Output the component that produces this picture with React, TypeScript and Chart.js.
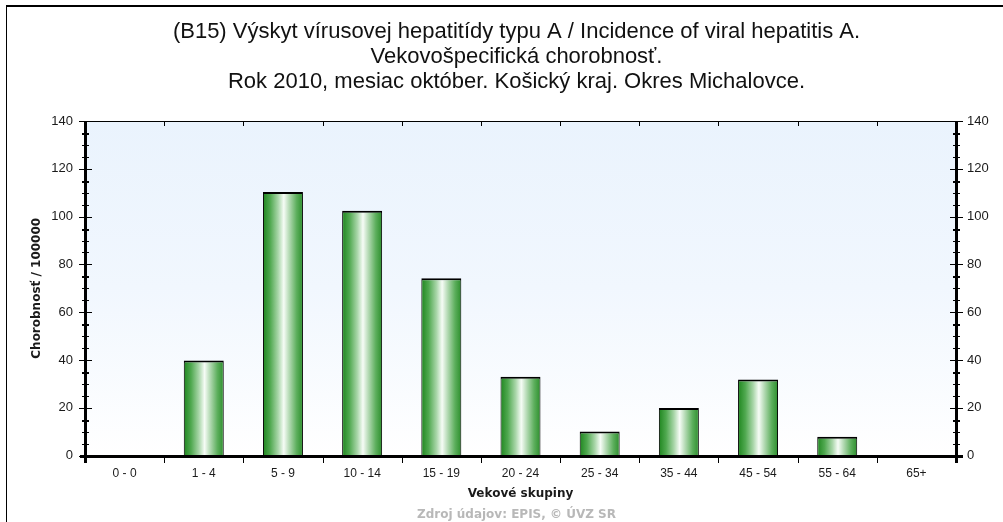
import React, { useEffect, useRef } from 'react';
import { Chart, registerables } from 'chart.js';

Chart.register(...registerables);

const titleLines = [
  '(B15) Výskyt vírusovej hepatitídy typu A / Incidence of viral hepatitis A.',
  'Vekovošpecifická chorobnosť.',
  'Rok 2010, mesiac október. Košický kraj. Okres Michalovce.',
];
const footerText = 'Zdroj údajov: EPIS, © ÚVZ SR';
const xAxisTitle = 'Vekové skupiny';
const yAxisTitle = 'Chorobnosť / 100000';

const categories = ['0 - 0', '1 - 4', '5 - 9', '10 - 14', '15 - 19', '20 - 24', '25 - 34', '35 - 44', '45 - 54', '55 - 64', '65+'];
const incidence = [0, 39.8, 110.3, 102.5, 74.2, 33.0, 10.1, 19.9, 31.8, 7.9, 0];

const yMin = 0;
const yMax = 140;
const yStep = 20;
const yMinorStep = 5;

const BAR_PCT = 0.505;

function barGradient(ctx: any) {
  const chart = ctx.chart;
  const area = chart.chartArea;
  if (!area || !chart.scales || !chart.scales.x) return '#2a8a2a';
  const xs = chart.scales.x;
  const cx = xs.getPixelForValue(ctx.dataIndex);
  const catW = (area.right - area.left) / categories.length;
  const w = catW * BAR_PCT;
  const g = chart.ctx.createLinearGradient(cx - w / 2, 0, cx + w / 2, 0);
  g.addColorStop(0, '#1f861f');
  g.addColorStop(0.18, '#4fa84f');
  g.addColorStop(0.38, '#a9d6a9');
  g.addColorStop(0.52, '#f6fcf6');
  g.addColorStop(0.66, '#b2d9b2');
  g.addColorStop(0.84, '#5daf5d');
  g.addColorStop(1, '#2c8e2c');
  return g;
}

const decorPlugin = {
  id: 'decor',
  beforeDraw(chart: any) {
    const { ctx, chartArea: a } = chart;
    ctx.save();
    ctx.fillStyle = '#ffffff';
    ctx.fillRect(0, 0, chart.width, chart.height);
    const g = ctx.createLinearGradient(0, a.top, 0, a.bottom);
    g.addColorStop(0, '#eaf3fd');
    g.addColorStop(0.5, '#f1f7fe');
    g.addColorStop(1, '#ffffff');
    ctx.fillStyle = g;
    ctx.fillRect(a.left, a.top, a.right - a.left, a.bottom - a.top);
    ctx.fillStyle = '#000';
    ctx.fillRect(6, 5, chart.width - 6, 2);
    ctx.fillRect(6, 5, 1, chart.height - 5);
    ctx.restore();
  },
  afterDatasetsDraw(chart: any) {
    const { ctx, chartArea: a, scales } = chart;
    const xs = scales.x;
    const ys = scales.y;
    const L = Math.round(a.left);
    const R = Math.round(a.right);
    const T = Math.round(a.top);
    const B = Math.round(a.bottom);
    ctx.save();
    ctx.fillStyle = '#000';
    ctx.fillRect(L, T, R - L, 1);
    for (let i = 1; i < categories.length; i++) {
      const px = Math.round((xs.getPixelForValue(i - 1) + xs.getPixelForValue(i)) / 2);
      ctx.fillRect(px, B, 1, 7);
      ctx.fillRect(px, T, 1, 5);
    }
    for (let v = yMin; v <= yMax; v += yMinorStep) {
      const py = Math.round(ys.getPixelForValue(v));
      const major = v % yStep === 0;
      const len = major ? 6 : 3;
      const h = !major && v % yStep === 15 ? 2 : 1;
      [L, R].forEach((ax) => ctx.fillRect(ax - len, py, len * 2 + 1, h));
    }
    ctx.fillRect(L - 1, T, 3, B - T + 7);
    ctx.fillRect(R - 1, T, 3, B - T + 7);
    ctx.fillRect(L - 5, B - 1, R - L + 12, 3);
    ctx.restore();
  },
};

export default function App() {
  const ref = useRef<HTMLCanvasElement | null>(null);
  useEffect(() => {
    if (!ref.current) return;
    const chart = new Chart(ref.current, {
      type: 'bar',
      data: {
        labels: categories,
        datasets: [
          {
            data: incidence,
            backgroundColor: barGradient,
            borderColor: '#000',
            borderWidth: { top: 2, left: 1, right: 1, bottom: 0 },
            borderSkipped: 'start',
            barPercentage: BAR_PCT,
            categoryPercentage: 1,
          },
        ],
      },
      plugins: [decorPlugin],
      options: {
        animation: false,
        responsive: false,
        devicePixelRatio: 1,
        layout: { padding: { left: 30, right: 0, top: 0, bottom: 0 } },
        plugins: {
          legend: { display: false },
          tooltip: { enabled: false },
          title: {
            display: true,
            text: titleLines,
            fullSize: true,
            color: '#111',
            font: { family: "'Liberation Sans', Arial, sans-serif", size: 22, weight: 'normal', lineHeight: 25 / 22 },
            padding: { top: 19, bottom: 27 },
          },
          subtitle: {
            display: true,
            text: footerText,
            position: 'bottom',
            fullSize: true,
            color: '#b8b8b8',
            font: { family: "'DejaVu Sans', sans-serif", size: 12, weight: 'bold', lineHeight: 1.2 },
            padding: 0,
          },
        },
        scales: {
          x: {
            type: 'category',
            offset: true,
            grid: { display: false, drawTicks: false },
            border: { display: false },
            ticks: {
              color: '#1a1a1a',
              font: { family: "'Liberation Sans', Arial, sans-serif", size: 12 },
              padding: 11,
              maxRotation: 0,
              autoSkip: false,
            },
            title: {
              display: true,
              text: xAxisTitle,
              color: '#1a1a1a',
              font: { family: "'DejaVu Sans', sans-serif", size: 12, weight: 'bold' },
              padding: { top: 0, bottom: 7 },
            },
            afterFit: (s: any) => {
              s.height = 52;
            },
          },
          y: {
            position: 'left',
            min: yMin,
            max: yMax,
            grid: { display: false, drawTicks: false },
            border: { display: false },
            ticks: {
              stepSize: yStep,
              color: '#1a1a1a',
              font: { family: "'Liberation Sans', Arial, sans-serif", size: 13 },
              padding: 12,
            },
            title: {
              display: true,
              text: yAxisTitle,
              color: '#1a1a1a',
              font: { family: "'DejaVu Sans', sans-serif", size: 12, weight: 'bold' },
              padding: { top: 0, bottom: 0 },
            },
            afterFit: (s: any) => {
              s.width = 55;
            },
          },
          y2: {
            position: 'right',
            min: yMin,
            max: yMax,
            grid: { display: false, drawTicks: false },
            border: { display: false },
            ticks: {
              stepSize: yStep,
              color: '#1a1a1a',
              font: { family: "'Liberation Sans', Arial, sans-serif", size: 13 },
              padding: 11,
            },
            afterFit: (s: any) => {
              s.width = 47;
            },
          },
        },
      },
    } as any);
    return () => chart.destroy();
  }, []);
  return (
    <div style={{ position: 'absolute', left: 0, top: 0, width: 1003, height: 522 }}>
      <canvas ref={ref} width={1003} height={522} style={{ display: 'block', width: 1003, height: 522 }} />
    </div>
  );
}
